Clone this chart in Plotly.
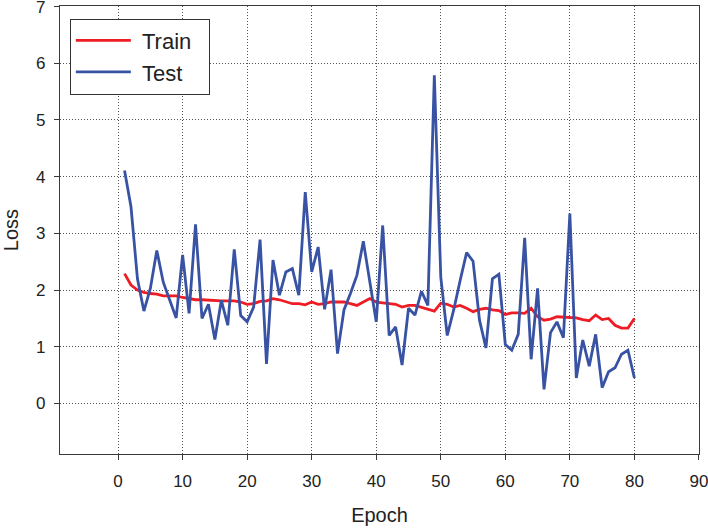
import plotly.graph_objects as go

epochs = list(range(1, 81))

train_loss = [2.29, 2.09, 2.00, 1.96, 1.94, 1.93, 1.90, 1.90, 1.90, 1.87,
              1.85, 1.83, 1.83, 1.82, 1.82, 1.81, 1.81, 1.81, 1.79, 1.75,
              1.76, 1.80, 1.81, 1.85, 1.83, 1.79, 1.76, 1.76, 1.74, 1.79,
              1.75, 1.76, 1.79, 1.79, 1.79, 1.76, 1.73, 1.79, 1.85, 1.79,
              1.78, 1.76, 1.75, 1.70, 1.73, 1.73, 1.70, 1.66, 1.63, 1.77,
              1.75, 1.70, 1.73, 1.68, 1.62, 1.66, 1.68, 1.65, 1.64, 1.57,
              1.60, 1.60, 1.59, 1.68, 1.53, 1.47, 1.49, 1.53, 1.52, 1.52,
              1.51, 1.48, 1.46, 1.56, 1.48, 1.50, 1.38, 1.33, 1.33, 1.50]

test_loss = [4.11, 3.47, 2.20, 1.63, 2.03, 2.70, 2.14, 1.82, 1.51, 2.62,
             1.59, 3.16, 1.50, 1.75, 1.13, 1.82, 1.38, 2.72, 1.55, 1.44,
             1.70, 2.89, 0.70, 2.53, 1.91, 2.32, 2.38, 1.91, 3.73, 2.32,
             2.76, 1.66, 2.36, 0.88, 1.65, 1.94, 2.26, 2.86, 2.17, 1.44,
             3.14, 1.20, 1.35, 0.68, 1.68, 1.56, 1.98, 1.73, 5.79, 2.23,
             1.20, 1.65, 2.17, 2.66, 2.51, 1.47, 0.98, 2.20, 2.28, 1.04,
             0.94, 1.22, 2.92, 0.78, 2.03, 0.25, 1.25, 1.44, 1.16, 3.35,
             0.45, 1.12, 0.66, 1.22, 0.28, 0.56, 0.63, 0.87, 0.94, 0.45]

x_ticks = [0, 10, 20, 30, 40, 50, 60, 70, 80, 90]
y_ticks = [0, 1, 2, 3, 4, 5, 6, 7]

FONT = "Liberation Sans, Arial, sans-serif"
AX = "#3a3a3a"
GRID = "#555555"
NB = "\u00a0"

fig = go.Figure()
fig.add_trace(go.Scatter(x=epochs, y=train_loss, mode="lines",
                         name=NB + "Train" + NB * 2,
                         line=dict(color="#ee1c25", width=2.8)))
fig.add_trace(go.Scatter(x=epochs, y=test_loss, mode="lines",
                         name=NB + "Test" + NB * 2,
                         line=dict(color="#3953a4", width=2.8)))

fig.update_layout(
    width=708, height=528,
    margin=dict(l=60, r=9, t=6, b=74, autoexpand=False),
    paper_bgcolor="white", plot_bgcolor="white",
    font=dict(family=FONT, color="#222222", size=17),
    showlegend=True,
    legend=dict(x=0.0154, y=0.972, xanchor="left", yanchor="top",
                bgcolor="white", bordercolor="#333333", borderwidth=1,
                font=dict(size=22, family=FONT, color="#222222"),
                itemwidth=55, tracegroupgap=0),
    xaxis=dict(range=[-9, 90.01], tickvals=x_ticks, automargin=False,
               showline=True, linecolor=AX, linewidth=1.2, mirror=True,
               ticks="outside", ticklen=5, tickcolor=AX, ticklabelstandoff=6,
               ticklabeloverflow="allow",
               showgrid=True, gridcolor=GRID, griddash="1px,2px", gridwidth=1,
               zeroline=False,
               title=dict(text="Epoch", font=dict(size=20), standoff=18)),
    yaxis=dict(range=[-0.89, 7.01], tickvals=y_ticks, automargin=False,
               showline=True, linecolor=AX, linewidth=1.2, mirror=True,
               ticks="outside", ticklen=5, tickcolor=AX, ticklabelstandoff=5,
               ticklabeloverflow="allow",
               showgrid=True, gridcolor=GRID, griddash="1px,2px", gridwidth=1,
               zeroline=False,
               title=dict(text="Loss", font=dict(size=20), standoff=18)),
)

fig.write_html("out.html",
               config={"displayModeBar": False},
               post_script="document.body.style.margin='0px';"
                           "document.body.style.overflow='hidden';")
